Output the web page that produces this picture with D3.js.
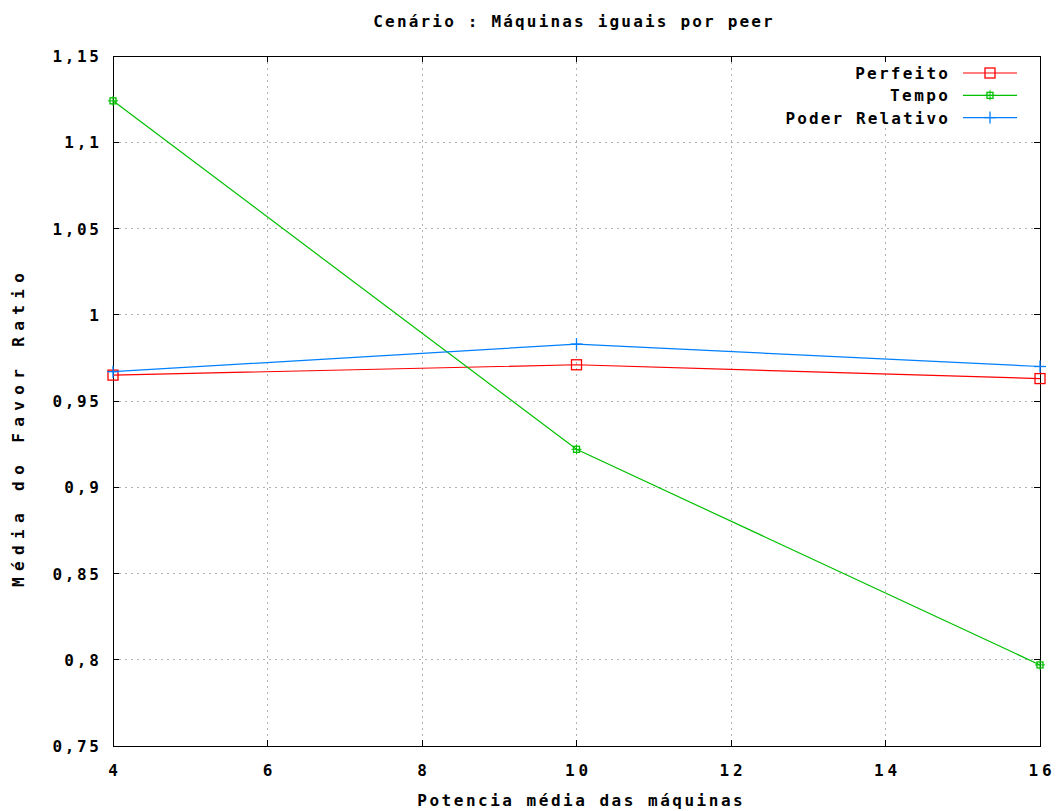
<!DOCTYPE html>
<html><head><meta charset="utf-8">
<script src="https://cdn.jsdelivr.net/npm/d3@7"></script>
<style>body{margin:0;background:#fff}svg text{font-family:"DejaVu Sans Mono",monospace;font-weight:bold;font-size:16px;fill:#000}</style>
</head><body><svg id="c" width="1059" height="811"></svg>
<script>
const xValues=[4,10,16];
const perfeito=[0.965,0.971,0.963];
const tempo=[1.124,0.922,0.797];
const poder=[0.967,0.983,0.970];
const xTicks=[4,6,8,10,12,14,16];
const yTicks=[0.75,0.8,0.85,0.9,0.95,1,1.05,1.1,1.15];
const seriesNames=["Perfeito","Tempo","Poder Relativo"];
const colors=["#ff0000","#00c000","#0080ff"];
const svg=d3.select("#c");
const L=113,R=1040,T=56,B=746;
const x=d3.scaleLinear().domain([4,16]).range([L,R]);
const y=d3.scaleLinear().domain([0.75,1.15]).range([B,T]);
const fmt=v=>String(+v.toFixed(2)).replace(".",",");
function txt(px,py,s,anchor,cw,sel){
 return (sel||svg).append("text").attr("x",px).attr("y",py).attr("text-anchor",anchor)
  .attr("textLength",s.length*cw).attr("lengthAdjust","spacing").text(s);
}
// grid
const g=svg.append("g");
xTicks.slice(1,-1).forEach(t=>g.append("line").attr("x1",x(t)).attr("x2",x(t)).attr("y1",T).attr("y2",B).attr("stroke","#b0b0b0").attr("stroke-dasharray","2,4").attr("shape-rendering","crispEdges"));
yTicks.slice(1,-1).forEach(t=>g.append("line").attr("x1",L).attr("x2",R).attr("y1",y(t)).attr("y2",y(t)).attr("stroke","#b0b0b0").attr("stroke-dasharray","2,4").attr("shape-rendering","crispEdges"));
// legend background
svg.append("rect").attr("x",780).attr("y",62).attr("width",R-781).attr("height",66).attr("fill","#fff");
// ticks
xTicks.forEach(t=>{
 svg.append("line").attr("x1",x(t)).attr("x2",x(t)).attr("y1",B).attr("y2",B-6).attr("stroke","#000").attr("shape-rendering","crispEdges");
 svg.append("line").attr("x1",x(t)).attr("x2",x(t)).attr("y1",T).attr("y2",T+6).attr("stroke","#000").attr("shape-rendering","crispEdges");
 txt(x(t),776,String(t),"middle",11.6);
});
yTicks.forEach(t=>{
 svg.append("line").attr("x1",L).attr("x2",L+6).attr("y1",y(t)).attr("y2",y(t)).attr("stroke","#000").attr("shape-rendering","crispEdges");
 svg.append("line").attr("x1",R).attr("x2",R-6).attr("y1",y(t)).attr("y2",y(t)).attr("stroke","#000").attr("shape-rendering","crispEdges");
 txt(99,y(t)+6,fmt(t),"end",11.6);
});
svg.append("rect").attr("x",L).attr("y",T).attr("width",R-L).attr("height",B-T).attr("fill","none").attr("stroke","#000").attr("shape-rendering","crispEdges");
// series
const data=[perfeito,tempo,poder];
const line=d3.line().x((d,i)=>x(xValues[i])).y(d=>y(d));
function marker(gg,k,cx,cy){
 if(k===0) gg.append("rect").attr("x",cx-5).attr("y",cy-5).attr("width",10).attr("height",10).attr("fill","none").attr("stroke",colors[0]).attr("stroke-width",1.3);
 else if(k===1){gg.append("rect").attr("x",cx-3).attr("y",cy-3).attr("width",6).attr("height",6).attr("fill","none").attr("stroke",colors[1]).attr("stroke-width",1.3);
  gg.append("line").attr("x1",cx-5).attr("x2",cx+5).attr("y1",cy).attr("y2",cy).attr("stroke",colors[1]);
  gg.append("line").attr("x1",cx).attr("x2",cx).attr("y1",cy-5).attr("y2",cy+5).attr("stroke",colors[1]);}
 else {gg.append("line").attr("x1",cx-6).attr("x2",cx+6).attr("y1",cy).attr("y2",cy).attr("stroke",colors[2]).attr("stroke-width",1.3);
  gg.append("line").attr("x1",cx).attr("x2",cx).attr("y1",cy-6).attr("y2",cy+6).attr("stroke",colors[2]).attr("stroke-width",1.3);}
}
data.forEach((s,k)=>{
 const gg=svg.append("g");
 gg.append("path").attr("d",line(s)).attr("fill","none").attr("stroke",colors[k]).attr("stroke-width",1.2);
 s.forEach((v,i)=>marker(gg,k,x(xValues[i]),y(v)));
});
// legend
seriesNames.forEach((n,k)=>{
 const ly=73+k*22.3;
 txt(948,ly+6,n,"end",11.6);
 const gg=svg.append("g");
 gg.append("line").attr("x1",963).attr("x2",1017).attr("y1",ly).attr("y2",ly).attr("stroke",colors[k]).attr("stroke-width",1.2);
 marker(gg,k,990,ly);
});
txt(573,27,"Cenário : Máquinas iguais por peer","middle",11.75);
txt(580,806,"Potencia média das máquinas","middle",12.05);
txt(0,0,"Média do Favor Ratio","middle",15.7).attr("transform","translate(24,430) rotate(-90)");
</script></body></html>
